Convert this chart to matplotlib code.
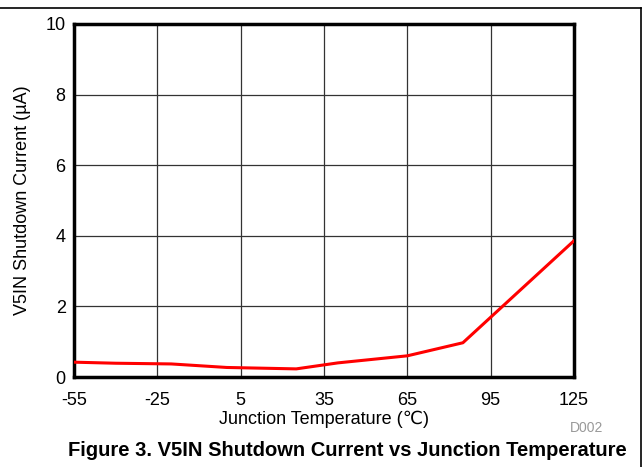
import matplotlib
matplotlib.use("Agg")
import matplotlib.pyplot as plt
from matplotlib.lines import Line2D

temps = [-55, -40, -20, 0, 25, 40, 65, 85, 125]
current = [0.42, 0.39, 0.37, 0.27, 0.23, 0.40, 0.60, 0.97, 3.86]
xticks = [-55, -25, 5, 35, 65, 95, 125]
yticks = [0, 2, 4, 6, 8, 10]

plt.rcParams['font.family'] = ['Liberation Sans', 'DejaVu Sans']
plt.rcParams['axes.unicode_minus'] = False

fig = plt.figure(figsize=(6.44, 4.67), dpi=100)
ax = fig.add_axes([74/644, 1-377/467, 500/644, 353/467])
ax.plot(temps, current, color='#ff0000', lw=2.2, zorder=3)
ax.set_xlim(-55, 125)
ax.set_ylim(0, 10)
ax.set_xticks(xticks)
ax.set_yticks(yticks)
ax.grid(True, color='#333333', lw=0.9)
ax.tick_params(length=0, labelsize=13)
ax.tick_params(axis='x', pad=11)
ax.tick_params(axis='y', pad=6)
for s in ax.spines.values():
    s.set_linewidth(2.5)
ax.set_xlabel('Junction Temperature (\u2103)', fontsize=13)
ax.set_ylabel('V5IN Shutdown Current (\u00b5A)', fontsize=13)
ax.xaxis.set_label_coords(0.5, -0.094)
ax.yaxis.set_label_coords(-0.086, 0.5)

fig.text(587/644, 1-428/467, 'D002', fontsize=10, color='#999999', ha='center', va='center')
fig.text(347/644, 1-451/467, 'Figure 3. V5IN Shutdown Current vs Junction Temperature',
         fontsize=14.5, fontweight='bold', ha='center', va='center')
fig.add_artist(Line2D([0, 641/644], [1-8/467, 1-8/467], color='black', lw=1.2, transform=fig.transFigure))
fig.add_artist(Line2D([641/644, 641/644], [1-8/467, 0], color='black', lw=1.2, transform=fig.transFigure))

fig.savefig('out.png', dpi=100)
